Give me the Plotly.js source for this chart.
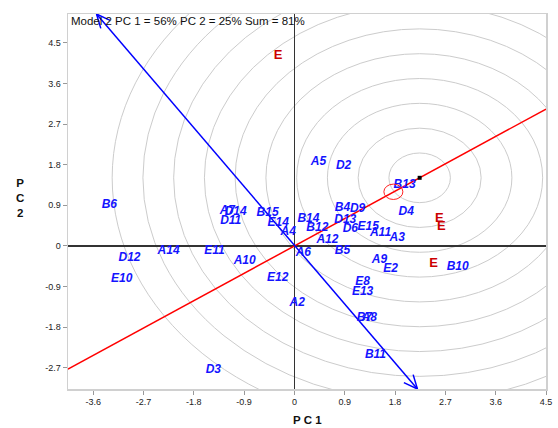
<!DOCTYPE html>
<html>
<head>
<meta charset="utf-8">
<script src="https://cdn.plot.ly/plotly-3.0.1.min.js"></script>
<style>html,body{margin:0;padding:0;background:#fff}#chart{width:558px;height:428px}</style>
</head>
<body>
<div id="chart"></div>
<script>
// Genotype labels and scores (PC1, PC2)
var genoNames = ["A5","D2","B13","D4","B4","D9","B14","D13","B12","D6","E15","A11","A3","A12","A6","B5","A9","E2","B10","E8","E13","A2","B7","A8","B11","D3","B6","A7","D14","D11","B15","E14","A4","D12","A14","E11","A10","E10","E12"];
var genoX = [0.43,0.88,1.97,2.00,0.86,1.13,0.25,0.91,0.41,1.00,1.32,1.54,1.84,0.59,0.16,0.86,1.52,1.72,2.92,1.22,1.22,0.05,1.25,1.34,1.45,-1.45,-3.31,-1.20,-1.05,-1.14,-0.48,-0.29,-0.11,-2.95,-2.25,-1.43,-0.89,-3.09,-0.30];
var genoY = [1.86,1.77,1.35,0.76,0.84,0.82,0.60,0.58,0.40,0.38,0.42,0.29,0.18,0.13,-0.15,-0.11,-0.31,-0.51,-0.46,-0.80,-1.02,-1.27,-1.59,-1.59,-2.41,-2.74,0.91,0.78,0.76,0.55,0.73,0.51,0.31,-0.26,-0.11,-0.11,-0.33,-0.73,-0.70];
// Environment markers
var envNames = ["E","E","E","E"];
var envX = [-0.29,2.59,2.63,2.49];
var envY = [4.21,0.60,0.42,-0.39];
// Ideal point and average-environment point
var idealX = 2.24, idealY = 1.51;
var meanX = 1.77, meanY = 1.20, meanR = 0.17;
// ATC ordinate end points
var atcX = [-3.54, 2.20];
var atcY = [5.14, -3.17];
// Concentric circle step
var ringStep = 0.55, ringCount = 10;
// Axis ticks
var tickVals = [-3.6,-2.7,-1.8,-0.9,0,0.9,1.8,2.7,3.6,4.5];
var xRange = [-4.05, 4.5], yRange = [-3.17, 5.14];

var W = 558, H = 428, mL = 68, mR = 12, mT = 14, mB = 39;
var pw = W - mL - mR, ph = H - mT - mB;
var sx = pw / (xRange[1] - xRange[0]), sy = ph / (yRange[1] - yRange[0]);

var shapes = [];
for (var k = 1; k <= ringCount; k++) {
  var r = ringStep * k;
  shapes.push({type:'circle', xref:'x', yref:'y', x0:idealX-r, x1:idealX+r, y0:idealY-r, y1:idealY+r,
    line:{color:'#cccccc', width:1}, layer:'below'});
}
shapes.push({type:'circle', xref:'x', yref:'y', x0:meanX-meanR, x1:meanX+meanR, y0:meanY-meanR, y1:meanY+meanR,
  line:{color:'#ff2020', width:1}});

// arrowheads (open V)
function head(tx, ty, fx, fy) {
  var dx = (tx - fx) * sx, dy = (ty - fy) * sy;
  var L = Math.sqrt(dx*dx + dy*dy); dx /= L; dy /= L;
  var len = 15, ang = 24 * Math.PI / 180;
  var xs = [], ys = [];
  [-ang, ang].forEach(function(a) {
    var bx = -(dx*Math.cos(a) - dy*Math.sin(a));
    var by = -(dx*Math.sin(a) + dy*Math.cos(a));
    xs.push(tx + bx * len / sx, tx, null); ys.push(ty + by * len / sy, ty, null);
  });
  return {x: xs, y: ys};
}
var h1 = head(atcX[0], atcY[0], atcX[1], atcY[1]);
var h2 = head(atcX[1], atcY[1], atcX[0], atcY[0]);

var slope = idealY / idealX;
var traces = [
  {x:[xRange[0], xRange[1]], y:[slope*xRange[0], slope*xRange[1]], mode:'lines', line:{color:'#ff0000', width:1.5}, hoverinfo:'skip'},
  {x:atcX, y:atcY, mode:'lines', line:{color:'#0000ff', width:1.5}, hoverinfo:'skip'},
  {x:h1.x.concat(h2.x), y:h1.y.concat(h2.y), mode:'lines', line:{color:'#0000ff', width:1.5}, hoverinfo:'skip'},
  {x:[idealX], y:[idealY], mode:'markers', marker:{symbol:'square', size:4, color:'#000'}, hoverinfo:'skip'},
  {x:genoX, y:genoY, text:genoNames, mode:'text', textposition:'middle center',
    textfont:{family:'Liberation Sans, Arial, sans-serif', size:12, color:'#1414ff', weight:'bold', style:'italic'}, cliponaxis:false},
  {x:envX, y:envY, text:envNames, mode:'text', textposition:'middle center',
    textfont:{family:'Liberation Sans, Arial, sans-serif', size:13, color:'#cc0000', weight:'bold'}}
];

var axisCommon = {
  tickvals: tickVals, ticktext: tickVals.map(function(v){return String(v);}),
  ticks:'outside', ticklen:4, tickcolor:'#999', tickwidth:1,
  showgrid:false, zeroline:true, zerolinecolor:'#333', zerolinewidth:1.5,
  showline:true, mirror:true, linecolor:'#d0d0d0', linewidth:1.5,
  tickfont:{family:'Liberation Sans, Arial, sans-serif', size:9, color:'#222'}
};

var layout = {
  width:W, height:H, margin:{l:mL, r:mR, t:mT, b:mB}, showlegend:false,
  paper_bgcolor:'#fff', plot_bgcolor:'#fff',
  xaxis: Object.assign({}, axisCommon, {range:xRange}),
  yaxis: Object.assign({}, axisCommon, {range:yRange}),
  shapes: shapes,
  annotations: [
    {text:'Model 2 PC 1 = 56% PC 2 = 25% Sum = 81%', xref:'paper', yref:'paper', x:0, y:1, xanchor:'left', yanchor:'top',
      xshift:1, yshift:1, showarrow:false, font:{family:'Liberation Sans, Arial, sans-serif', size:11.5, color:'#111'}},
    {text:'<b>P C 1</b>', xref:'paper', yref:'paper', x:0.5, y:-(420-389)/ph, xanchor:'center', yanchor:'middle',
      showarrow:false, font:{family:'Liberation Sans, Arial, sans-serif', size:11.5, color:'#111'}},
    {text:'<b>P<br>C<br>2</b>', xref:'paper', yref:'paper', x:(20-mL)/pw, y:(389-198)/ph, xanchor:'center', yanchor:'middle',
      showarrow:false, font:{family:'Liberation Sans, Arial, sans-serif', size:11.5, color:'#111'}}
  ]
};
Plotly.newPlot('chart', traces, layout, {displayModeBar:false, staticPlot:true});
</script>
</body>
</html>
